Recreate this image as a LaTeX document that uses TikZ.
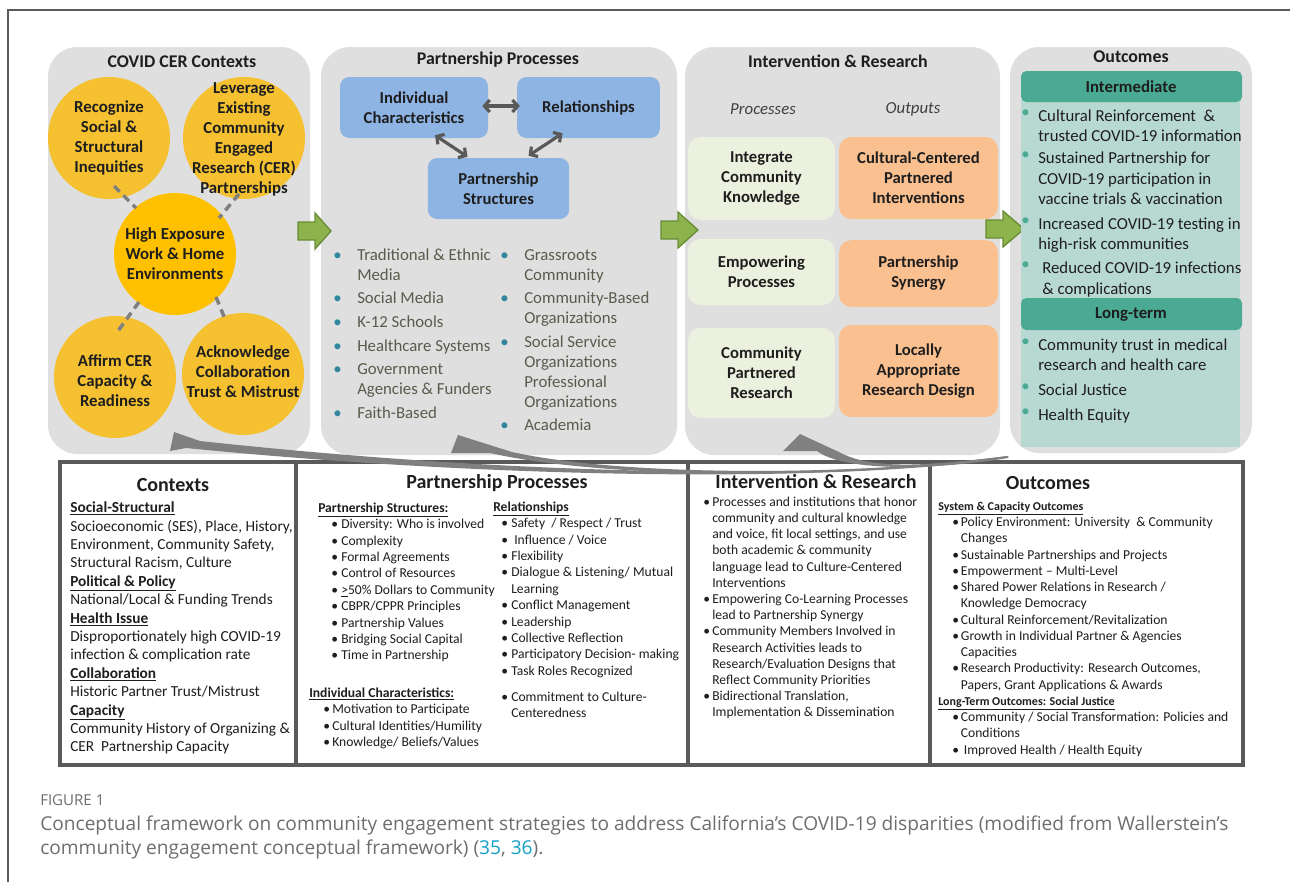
\documentclass[tikz,border=0pt]{standalone}
\usepackage{fontspec}
\setmainfont{Carlito}
\newfontfamily\capfont{Open Sans}
\usetikzlibrary{arrows.meta,calc}
\definecolor{panelg}{HTML}{DFDFDF}
\definecolor{cyo}{HTML}{F5C131}
\definecolor{cyc}{HTML}{FFC000}
\definecolor{dashg}{HTML}{7F7F7F}
\definecolor{boxblue}{HTML}{8EB4E3}
\definecolor{arrg}{HTML}{595959}
\definecolor{procg}{HTML}{EBF1DE}
\definecolor{outp}{HTML}{FAC090}
\definecolor{tealh}{HTML}{4AAA93}
\definecolor{tealb}{HTML}{B8D9D1}
\definecolor{bteal}{HTML}{31859C}
\definecolor{olivet}{HTML}{5B5A4C}
\definecolor{agreen}{HTML}{8DB34D}
\definecolor{agreenD}{HTML}{6A8C35}
\definecolor{frameg}{HTML}{5A5A5A}
\definecolor{fbg}{HTML}{808080}
\definecolor{capg}{HTML}{6E6E6E}
\definecolor{capc}{HTML}{14A0C8}
\definecolor{txt}{HTML}{1E1E1E}

\newcommand\myTB{\makebox[18pt][l]{\textcolor{bteal}{\textbullet}}}
\newcommand\myTC{\hspace*{18pt}}
\newcommand\myOB{\makebox[12.75pt][l]{\raisebox{3pt}{\textcolor{tealh}{\textbullet}}}}
\newcommand\myOC{\hspace*{12.75pt}}
\newcommand\myHD[1]{\underline{\textbf{#1}}}
\newcommand\myBB[2]{\hspace*{#1}\makebox[#2][l]{\textbullet}}
\newcommand\myGA[3]{\filldraw[garr] (#1,#3-9) -- (#1+17,#3-9) -- (#1+17,#3-18) -- (#2,#3) -- (#1+17,#3+18) -- (#1+17,#3+9) -- (#1,#3+9) -- cycle;}

\begin{document}
\begin{tikzpicture}[x=0.75pt,y=-0.75pt,
  panelbg/.style={fill=panelg, rounded corners=22pt},
  ycirc/.style={circle, fill=cyo, minimum size=91.5pt, inner sep=0pt},
  ctext/.style={align=center, inner sep=0pt, text=txt, font=\bfseries\fontsize{12.6}{15}\selectfont},
  dashl/.style={draw=dashg, line width=2.6pt, dash pattern=on 6pt off 4pt},
  bbox/.style={rectangle, rounded corners=7pt, fill=boxblue, align=center, text=txt, font=\bfseries\fontsize{12.5}{15}\selectfont, inner sep=0pt, minimum height=45.75pt},
  darr/.style={draw=arrg, line width=2.4pt, {Straight Barb[length=4pt,width=9pt]}-{Straight Barb[length=4pt,width=9pt]}},
  pbox/.style={rectangle, rounded corners=9pt, fill=procg, align=center, text=txt, font=\bfseries\fontsize{12.5}{15}\selectfont, inner sep=0pt, minimum width=110pt},
  obox/.style={rectangle, rounded corners=9pt, fill=outp, align=center, text=txt, font=\bfseries\fontsize{12.5}{15}\selectfont, inner sep=0pt, minimum width=119pt},
  garr/.style={fill=agreen, draw=agreenD, line width=1pt, line join=miter},
  blk/.style={anchor=north west, inner sep=0pt, align=left},
  ttl/.style={font=\bfseries\fontsize{13.4}{16}\selectfont, inner sep=0pt, text=txt},
  bttl/.style={font=\bfseries\fontsize{15}{18}\selectfont, inner sep=0pt, text=txt},
  fb/.style={fill=fbg}]
\useasboundingbox (0,0) rectangle (1290,882);
\fill[white] (0,0) rectangle (1290,882);
% page frame
\draw[frameg, line width=0.8pt] (8,882) -- (8,10) -- (1290,10);

% ---------------- panels
\path[panelbg] (48,47) rectangle (310,454);
\path[panelbg] (321,47) rectangle (677,455);
\path[panelbg] (685,47) rectangle (1000,455);
\path[panelbg] (1010,47) rectangle (1252,453);

% ---------------- contexts panel
\node[ttl] (t1) at (182,62) {COVID CER Contexts};
\node[ycirc] (rec) at (109,138) {};
\node[ycirc] (lev) at (244,138) {};
\node[ycirc, fill=cyc] (hex) at (175,254) {};
\node[ycirc] (aff) at (115,377) {};
\node[ycirc] (ack) at (243,374) {};
\node[ctext] (rect) at (rec) {Recognize\\Social \&\\Structural\\Inequities};
\node[ctext] (levt) at (244,139) {Leverage\\Existing\\Community\\Engaged\\Research (CER)\\Partnerships};
\node[ctext] (hext) at (hex) {High Exposure\\Work \& Home\\Environments};
\node[ctext] (afft) at (115,381) {Affirm CER\\Capacity \&\\Readiness};
\node[ctext] (ackt) at (243,372) {Acknowledge\\Collaboration\\Trust \& Mistrust};
\coordinate (d1a) at (114,186); \coordinate (d1b) at (136,208);
\coordinate (d2a) at (239,194); \coordinate (d2b) at (219,218);
\coordinate (d3a) at (139,302); \coordinate (d3b) at (118,331);
\coordinate (d4a) at (216,297); \coordinate (d4b) at (225,319);
\draw[dashl] (d1a) -- (d1b);
\draw[dashl] (d2a) -- (d2b);
\draw[dashl] (d3a) -- (d3b);
\draw[dashl] (d4a) -- (d4b);

% green arrows
\myGA{298}{331}{231}
\myGA{661}{698}{230}
\myGA{986}{1024}{229}

% ---------------- partnership panel
\node[ttl] (t2) at (498,60) {Partnership Processes};
\node[bbox, minimum width=111pt] (ind) at (414,107.5) {Individual\\Characteristics};
\node[bbox, minimum width=107pt] (rel) at (588.5,107.5) {Relationships};
\node[bbox, minimum width=106pt] (str) at (498.5,188.5) {Partnership\\Structures};
\draw[darr] ($(ind.east)+(-6,-1.5)$) -- ($(rel.west)+(3,-1.5)$);
\draw[darr] ($(ind.south)+(21,-3)$) -- ($(str.north)+(-31,-1)$);
\draw[darr] ($(rel.south)+(-26,-5)$) -- ($(str.north)+(30,-2)$);
\node[blk, text=olivet, font=\fontsize{12.6}{15}\selectfont] (plL) at (333,246) {\strut\myTB Traditional \& Ethnic\\ \myTC Media\\[2.7pt] \myTB Social Media\\[2.7pt] \myTB K-12 Schools\\[2.7pt] \myTB Healthcare Systems\\[2.7pt] \myTB Government\\ \myTC Agencies \& Funders\\[2.7pt] \myTB Faith-Based};
\node[blk, text=olivet, font=\fontsize{12.6}{15}\selectfont] (plR) at (500,246) {\strut\myTB Grassroots\\ \myTC Community\\[2.3pt] \myTB Community-Based\\ \myTC Organizations\\[3pt] \myTB Social Service\\ \myTC Organizations\\ \myTC Professional\\ \myTC Organizations\\[2.3pt] \myTB Academia};

% ---------------- intervention panel
\node[ttl] (t3) at (838,61) {Intervention \& Research};
\node[inner sep=0pt, text=black!75, font=\itshape\fontsize{12.6}{15}\selectfont] (lp) at (763,109) {Processes};
\node[inner sep=0pt, text=black!75, font=\itshape\fontsize{12.6}{15}\selectfont] (lo) at (913,109) {Outputs};
\node[pbox, minimum height=62pt] (p1) at (761.5,178.5) {Integrate\\Community\\Knowledge};
\node[pbox, minimum height=49.5pt] (p2) at (761.5,272) {Empowering\\Processes};
\node[pbox, minimum height=67.5pt] (p3) at (761.5,373) {Community\\Partnered\\Research};
\node[obox, minimum height=61.5pt] (o1) at (918.5,178) {Cultural-Centered\\Partnered\\Interventions};
\node[obox, minimum height=50pt] (o2) at (918.5,273.5) {Partnership\\Synergy};
\node[obox, minimum height=69pt] (o3) at (918.5,371) {Locally\\Appropriate\\Research Design};

% ---------------- outcomes panel
\node[ttl] (t4) at (1131,57) {Outcomes};
\fill[tealb] (1021,100) rectangle (1240,447);
\fill[tealh, rounded corners=4pt] (1021,71) rectangle (1242,102);
\fill[tealh, rounded corners=4pt] (1021,298) rectangle (1242,330);
\node[inner sep=0pt, text=txt, font=\bfseries\fontsize{12.6}{15}\selectfont] (hint) at (1131,87) {Intermediate};
\node[inner sep=0pt, text=txt, font=\bfseries\fontsize{12.6}{15}\selectfont] (hlt) at (1131,314) {Long-term};
\node[blk, text=txt, font=\fontsize{12.6}{15.45}\selectfont] (oint) at (1021,106.5) {\strut\myOB Cultural Reinforcement\ \ \&\\ \myOC trusted COVID-19 information\\[1pt] \myOB Sustained Partnership for\\ \myOC COVID-19 participation in\\ \myOC vaccine trials \& vaccination\\[2.7pt] \myOB Increased COVID-19 testing in\\ \myOC high-risk communities\\[2.7pt] \myOB\hspace*{3pt}Reduced COVID-19 infections\\ \myOC\hspace*{3pt}\& complications};
\node[blk, text=txt, font=\fontsize{12.6}{15.45}\selectfont] (olt) at (1021,335.6) {\strut\myOB Community trust in medical\\ \myOC research and health care\\[3.3pt] \myOB Social Justice\\[3.3pt] \myOB Health Equity};

% ---------------- bottom table
\draw[frameg, line width=3pt] (60,462) rectangle (1243,765);
\draw[frameg, line width=3pt] (296,462) -- (296,765);
\draw[frameg, line width=3pt] (688,462) -- (688,765);
\draw[frameg, line width=3pt] (930,462) -- (930,765);

\node[bttl] (bt1) at (173,485) {Contexts};
\node[blk, text=txt, font=\fontsize{11.5}{13.8}\selectfont] (bctx) at (70,499.6) {\strut\myHD{Social-Structural}\\
Socioeconomic (SES), Place, History,\\
Environment, Community Safety,\\
Structural Racism, Culture\\
\myHD{Political \& Policy}\\
National/Local \& Funding Trends\\
\myHD{Health Issue}\\
Disproportionately high COVID-19\\
infection \& complication rate\\
\myHD{Collaboration}\\
Historic Partner Trust/Mistrust\\
\myHD{Capacity}\\
Community History of Organizing \&\\
CER\ \ Partnership Capacity};

\node[bttl] (bt2) at (497,483) {Partnership Processes};
\node[blk, text=txt, font=\fontsize{10.2}{12.3}\selectfont] (bps) at (318,500.6) {\strut\myHD{Partnership Structures:}\\
\myBB{9.75pt}{7.5pt}Diversity: Who is involved\\
\myBB{9.75pt}{7.5pt}Complexity\\
\myBB{9.75pt}{7.5pt}Formal Agreements\\
\myBB{9.75pt}{7.5pt}Control of Resources\\
\myBB{9.75pt}{7.5pt}\underline{>}50\% Dollars to Community\\
\myBB{9.75pt}{7.5pt}CBPR/CPPR Principles\\
\myBB{9.75pt}{7.5pt}Partnership Values\\
\myBB{9.75pt}{7.5pt}Bridging Social Capital\\
\myBB{9.75pt}{7.5pt}Time in Partnership};
\node[blk, text=txt, font=\fontsize{10.2}{12.3}\selectfont] (bic) at (309,685.6) {\strut\myHD{Individual Characteristics:}\\
\myBB{10.5pt}{6.75pt}Motivation to Participate\\
\myBB{10.5pt}{6.75pt}Cultural Identities/Humility\\
\myBB{10.5pt}{6.75pt}Knowledge/ Beliefs/Values};
\node[blk, text=txt, font=\fontsize{10.2}{12.3}\selectfont] (brl) at (493,499.6) {\strut\myHD{Relationships}\\
\myBB{6pt}{7.5pt}Safety\ \ / Respect / Trust\\
\myBB{6pt}{7.5pt}\hspace*{2.25pt}Influence / Voice\\
\myBB{6pt}{7.5pt}Flexibility\\
\myBB{6pt}{7.5pt}Dialogue \& Listening/ Mutual\\
\hspace*{13.5pt}Learning\\
\myBB{6pt}{7.5pt}Conflict Management\\
\myBB{6pt}{7.5pt}Leadership\\
\myBB{6pt}{7.5pt}Collective Reflection\\
\myBB{6pt}{7.5pt}Participatory Decision- making\\
\myBB{6pt}{7.5pt}Task Roles Recognized\\[7.2pt]
\myBB{6pt}{7.5pt}Commitment to Culture-\\
\hspace*{13.5pt}Centeredness};

\node[bttl] (bt3) at (816,482) {Intervention \& Research};
\node[blk, text=txt, font=\fontsize{10.2}{12.15}\selectfont] (bir) at (703,494.6) {\strut\myBB{0pt}{6.75pt}Processes and institutions that honor\\
\hspace*{6.75pt}community and cultural knowledge\\
\hspace*{6.75pt}and voice, fit local settings, and use\\
\hspace*{6.75pt}both academic \& community\\
\hspace*{6.75pt}language lead to Culture-Centered\\
\hspace*{6.75pt}Interventions\\
\myBB{0pt}{6.75pt}Empowering Co-Learning Processes\\
\hspace*{6.75pt}lead to Partnership Synergy\\
\myBB{0pt}{6.75pt}Community Members Involved in\\
\hspace*{6.75pt}Research Activities leads to\\
\hspace*{6.75pt}Research/Evaluation Designs that\\
\hspace*{6.75pt}Reflect Community Priorities\\
\myBB{0pt}{6.75pt}Bidirectional Translation,\\
\hspace*{6.75pt}Implementation \& Dissemination};

\node[bttl] (bt4) at (1048,483) {Outcomes};
\node[blk, text=txt, font=\fontsize{10.2}{12.2}\selectfont] (boc) at (938,498.6) {\strut{\fontsize{9}{12.2}\selectfont\myHD{System \& Capacity Outcomes}}\\
\myBB{10.5pt}{6.5pt}Policy Environment: University\ \ \& Community\\
\hspace*{17pt}Changes\\
\myBB{10.5pt}{6.5pt}Sustainable Partnerships and Projects\\
\myBB{10.5pt}{6.5pt}Empowerment -- Multi-Level\\
\myBB{10.5pt}{6.5pt}Shared Power Relations in Research /\\
\hspace*{17pt}Knowledge Democracy\\
\myBB{10.5pt}{6.5pt}Cultural Reinforcement/Revitalization\\
\myBB{10.5pt}{6.5pt}Growth in Individual Partner \& Agencies\\
\hspace*{17pt}Capacities\\
\myBB{10.5pt}{6.5pt}Research Productivity: Research Outcomes,\\
\hspace*{17pt}Papers, Grant Applications \& Awards\\
{\fontsize{9}{12.2}\selectfont\myHD{Long-Term Outcomes: Social Justice}}\\
\myBB{10.5pt}{6.5pt}Community / Social Transformation: Policies and\\
\hspace*{17pt}Conditions\\
\myBB{10.5pt}{6.5pt}\hspace*{2.25pt}Improved Health / Health Equity};

% ---------------- feedback arrows (from outcomes back to earlier panels)
\coordinate (fbs) at (1008,456);
\fill[fb] (fbs) .. controls (870,478) and (560,480) .. (200,441) -- (174,432) -- (170,451) -- (186,448) .. controls (540,483) and (870,480) .. (1008,457.5) -- cycle;
\fill[fb] (fbs) .. controls (850,477) and (620,476) .. (512,452) -- (458,435) -- (451,453) -- (490,453) .. controls (610,480) and (850,479) .. (1008,457.5) -- cycle;
\fill[fb] (fbs) .. controls (940,464) and (875,472) .. (839,452) -- (800,434) -- (783,451) -- (817,451) .. controls (845,472) and (935,470) .. (1008,458) -- cycle;

% ---------------- caption
\node[anchor=base west, inner sep=0pt, text=capg, font=\capfont\fontsize{11.3}{13}\selectfont] (fig) at (40,805) {FIGURE 1};
\node[blk, text=capg, font=\capfont\fontsize{14.35}{17.6}\selectfont] (cap) at (40,814) {\strut Conceptual framework on community engagement strategies to address California’s COVID-19 disparities (modified from Wallerstein’s\\ community engagement conceptual framework) (\textcolor{capc}{35}, \textcolor{capc}{36}).};
\end{tikzpicture}
\end{document}
